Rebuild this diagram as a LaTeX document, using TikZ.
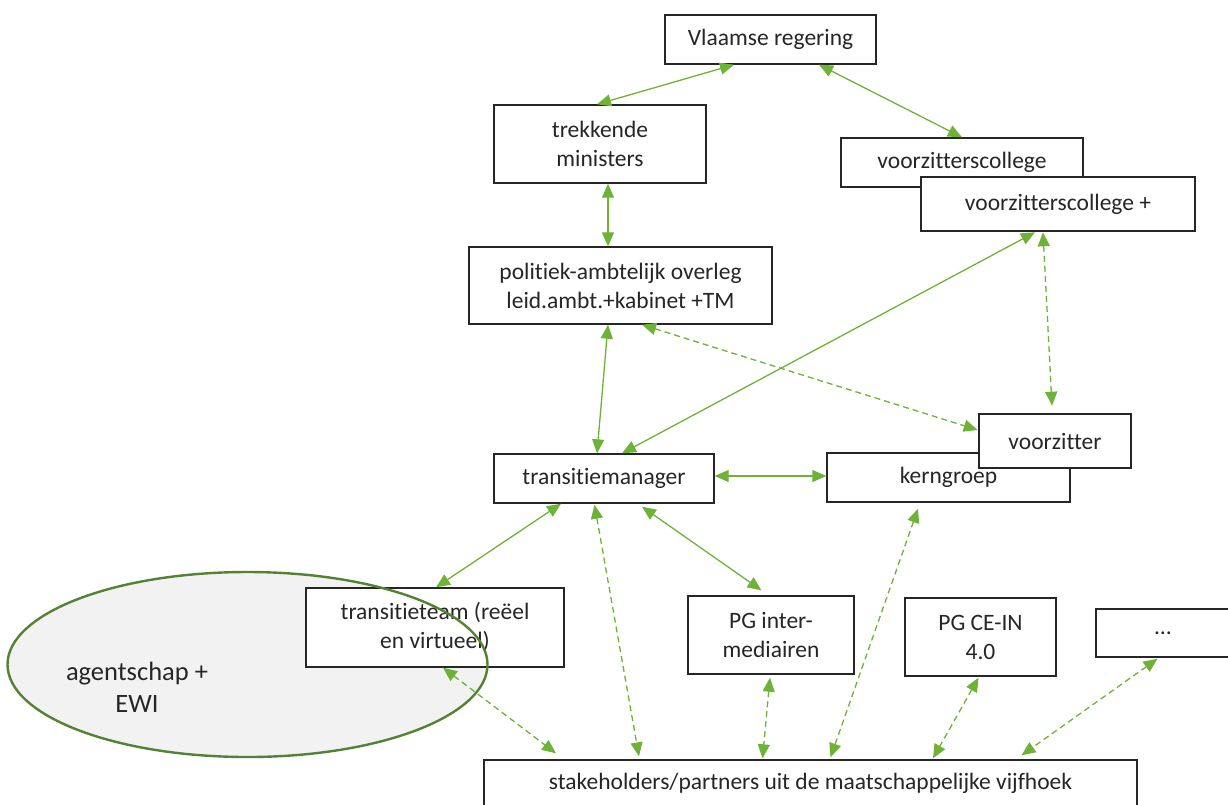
\documentclass[tikz,border=0pt]{standalone}
\usepackage{fontspec}
\setmainfont{Carlito}[Ligatures={NoCommon,NoContextual}]
\usetikzlibrary{arrows.meta,calc}
\definecolor{lk}{RGB}{110,178,55}
\definecolor{ellc}{RGB}{84,130,53}
\definecolor{bx}{RGB}{38,38,38}
\begin{document}
\begin{tikzpicture}[x=1pt,y=-1pt,
  box/.style={draw=bx,line width=1.4pt,fill=white,text=bx,align=center,inner sep=0pt,font=\fontsize{23.5}{29}\selectfont},
  thickbox/.style={box,line width=2.6pt},
  link/.style={draw=lk,line width=1.3pt,{Triangle[length=14pt,width=12pt]}-{Triangle[length=14pt,width=12pt]}},
  dlink/.style={link,dash pattern=on 6pt off 4pt}]
\useasboundingbox (0,0) rectangle (1228,804);
% ellipse fill
\fill[gray!10] (247.5,664.5) ellipse [x radius=240pt, y radius=92.5pt];
% boxes
\node[box,minimum width=211pt,minimum height=49pt] (vr) at (770.5,39.5) {Vlaamse regering};
\node[box,minimum width=212pt,minimum height=78pt] (tm) at (600,144) {trekkende\\ministers};
\node[box,minimum width=303pt,minimum height=77pt] (pa) at (620.5,285.5) {politiek-ambtelijk overleg\\leid.ambt.+kabinet +TM};
\node[box,minimum width=242pt,minimum height=49pt] (vc) at (962,162.5) {voorzitterscollege};
\node[thickbox,minimum width=274pt,minimum height=54pt] (vcp) at (1058,204) {voorzitterscollege +};
\node[box,minimum width=243pt,minimum height=49pt] (kg) at (948.5,477.5) {kerngroep};
\node[thickbox,minimum width=152pt,minimum height=54pt] (vz) at (1055,441) {voorzitter};
\node[box,minimum width=220pt,minimum height=49pt] (tman) at (604,478.5) {transitiemanager};
\node[box,minimum width=258pt,minimum height=79pt] (tteam) at (435,627.5) {transitieteam (reëel\\en virtueel)};
\node[box,minimum width=166pt,minimum height=78pt] (pgi) at (771,635) {PG inter-\\mediairen};
\node[box,minimum width=151pt,minimum height=78pt] (pgc) at (980.5,637) {PG CE-IN\\4.0};
\node[box,minimum width=134pt,minimum height=48pt] (dots) at (1163,633) {…};
\node[box,minimum width=653pt,minimum height=46pt] (sh) at (810.5,783) {stakeholders/partners uit de maatschappelijke vijfhoek};
% ellipse stroke and text
\draw[ellc,line width=2.4pt] (247.5,664.5) ellipse [x radius=240pt, y radius=92.5pt];
\node[text=bx,align=center,font=\fontsize{26.5}{32}\selectfont] (ag) at (137,687) {agentschap +\\EWI};
% connectors
\draw[link] ([xshift=-36.5pt]vr.south) -- ([xshift=-3pt]tm.north);
\draw[link] ([xshift=48.5pt]vr.south) -- (vc.north);
\draw[link] ([xshift=8pt]tm.south) -- ([xshift=-12.5pt]pa.north);
\draw[link] ([xshift=-12.5pt]pa.south) -- ([xshift=-7pt]tman.north);
\draw[dlink] ([xshift=21.5pt]pa.south) -- ([yshift=11pt]vz.west);
\draw[link] ([xshift=-23pt]vcp.south) -- ([xshift=18pt]tman.north);
\draw[dlink] ([xshift=-15pt]vcp.south) -- ([xshift=-3pt,yshift=7pt]vz.north);
\draw[link] ([yshift=2.5pt]tman.east) -- ([yshift=1.5pt]kg.west);
\draw[link] ([xshift=-43pt]tman.south) -- ([xshift=1pt]tteam.north);
\draw[dlink] ([xshift=-9.5pt,yshift=-1pt]tman.south) -- ([xshift=-171.5pt,yshift=3pt]sh.north);
\draw[link] ([xshift=38pt,yshift=-3pt]tman.south) -- ([xshift=-9.5pt,yshift=5pt]pgi.north);
\draw[dlink] ([xshift=-30.5pt,yshift=-6pt]kg.south) -- ([xshift=20pt,yshift=2pt]sh.north);
\draw[dlink] ([xshift=8pt]tteam.south) -- ([xshift=-254.5pt,yshift=6pt]sh.north);
\draw[dlink] ([xshift=-1pt,yshift=-3pt]pgi.south) -- ([xshift=-48pt,yshift=1pt]sh.north);
\draw[dlink] ([xshift=-2pt,yshift=-1pt]pgc.south) -- ([xshift=122.5pt,yshift=1pt]sh.north);
\draw[dlink] ([xshift=-5.5pt,yshift=-1pt]dots.south) -- ([xshift=211pt,yshift=4pt]sh.north);
\end{tikzpicture}
\end{document}
